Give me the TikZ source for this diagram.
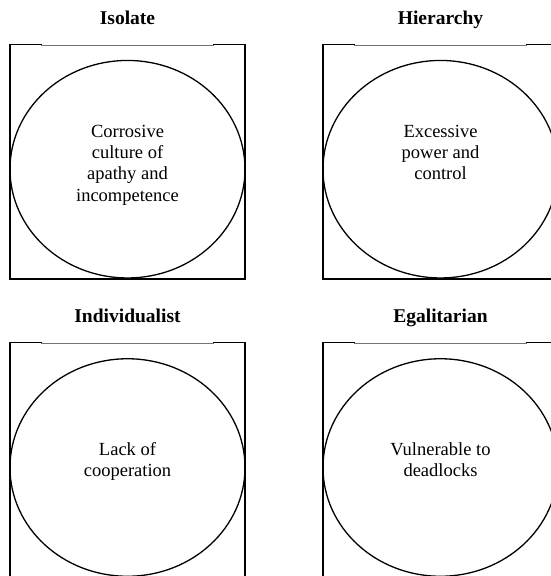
\documentclass[tikz,border=0pt]{standalone}
\usepackage{fontspec}
\setmainfont{Liberation Serif}
\usetikzlibrary{shapes.geometric}

\tikzset{
  frame/.style={line width=1.5pt, line join=miter, line cap=rect},
  lid/.style={line width=0.7pt, draw=black!55},
  oval/.style={draw, ellipse, line width=1.3pt, inner sep=0pt,
               minimum width=235pt, minimum height=217.5pt},
  heading/.style={font=\fontsize{19.5}{22}\selectfont\bfseries, inner sep=0pt},
  body/.style={font=\fontsize{18.5}{21.2}\selectfont, align=center, inner sep=0pt}
}

% one quadrant: #1,#2 top-left corner of the frame, #3 name,
% #4 heading, #5 body text, #6 first baseline below the frame top
\newcommand{\quadpanel}[6]{%
  \begin{scope}[shift={(#1,#2)}]
    \draw[frame] (31,-0.3) -- (0,-0.3) -- (0,234.3) -- (235,234.3)
                 -- (235,-0.3) -- (204,-0.3);
    \draw[lid] (31,0.3) -- (204,0.3);
    \node[oval] (#3-oval) at (117.5,124.5) {};
    \node[heading, anchor=base] (#3-title) at (117.5,-20.5) {#4};
    \node[body, anchor=north] (#3-text) at (117.5,#6-14.8) {\strut #5};
  \end{scope}}

\begin{document}
\begin{tikzpicture}[x=1pt, y=-1pt]
  \useasboundingbox (0,0) rectangle (551,576);
  \clip (0,0) rectangle (551,576);
  \quadpanel{10}{44.7}{isolate}{Isolate}
    {Corrosive\\culture of\\apathy and\\incompetence}{92.5}
  \quadpanel{323}{44.7}{hierarchy}{Hierarchy}
    {Excessive\\power and\\control}{92.5}
  \quadpanel{10}{343}{individualist}{Individualist}
    {Lack of\\cooperation}{112}
  \quadpanel{323}{343}{egalitarian}{Egalitarian}
    {Vulnerable to\\deadlocks}{112}
\end{tikzpicture}
\end{document}
